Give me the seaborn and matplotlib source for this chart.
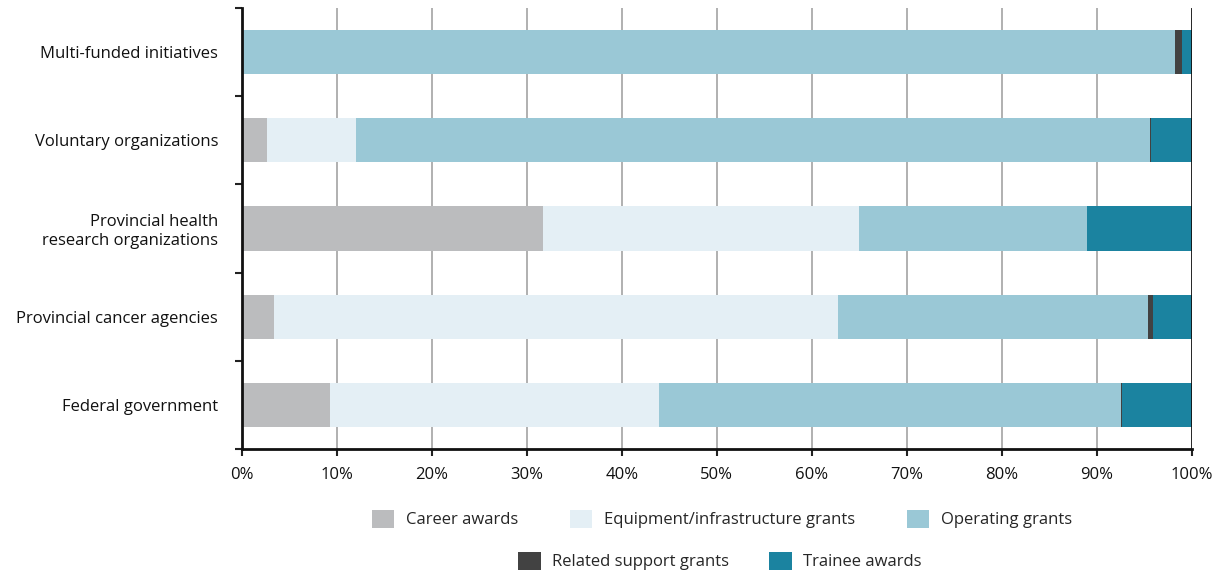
import numpy as np
import pandas as pd
import matplotlib
matplotlib.use("Agg")
import matplotlib.pyplot as plt
from matplotlib.patches import Patch
import seaborn as sns

categories = ["Multi-funded initiatives", "Voluntary organizations",
              "Provincial health\nresearch organizations",
              "Provincial cancer agencies", "Federal government"]
series = ["Career awards", "Equipment/infrastructure grants", "Operating grants",
          "Related support grants", "Trainee awards"]
career = [0.0, 2.7, 31.7, 3.4, 9.3]
equipment = [0.0, 9.3, 33.3, 59.3, 34.6]
operating = [98.2, 83.6, 23.9, 32.7, 48.6]
related = [0.8, 0.1, 0.0, 0.5, 0.1]
trainee = [1.0, 4.3, 11.1, 4.1, 7.4]
xticks = [0, 10, 20, 30, 40, 50, 60, 70, 80, 90, 100]

colors = ["#BBBCBE", "#E4EFF5", "#9AC8D6", "#424242", "#1B83A0"]

sns.set_theme(style="white")
plt.rcParams['font.family'] = ['Open Sans', 'DejaVu Sans']

fig = plt.figure(figsize=(12.31, 5.78), dpi=100)
ax = fig.add_axes([241.7/1231, 1-449/578, (1192-241.7)/1231, (449-8)/578])

vals = np.array([career, equipment, operating, related, trainee])
cum = np.cumsum(vals, axis=0)

for x in xticks[1:-1]:
    ax.axvline(x, color="#AAAAAA", lw=1.3, zorder=0)

for i in range(len(series) - 1, -1, -1):
    df = pd.DataFrame({"cat": categories, "val": cum[i]})
    sns.barplot(data=df, x="val", y="cat", order=categories, orient="h",
                color=colors[i], width=0.5, saturation=1, ax=ax, zorder=2,
                linewidth=0, edgecolor="none")

ax.axvline(100, color="#111111", lw=2, zorder=3)

ax.set_xlim(0, 100)
ax.set_ylim(4.5, -0.5)
ax.set_xticks(xticks)
ax.set_xticklabels([f"{v}%" for v in xticks], fontsize=12, color="#111111")
ax.set_xlabel("")
ax.set_ylabel("")
ax.tick_params(axis="y", which="major", length=0, pad=17, labelsize=12, labelcolor="#111111")
for lab in ax.get_yticklabels():
    lab.set_multialignment("right")
ax.set_yticks(np.arange(-0.5, 5, 1), minor=True)
ax.tick_params(axis="y", which="minor", length=5, width=1.5, color="#222222", direction="out", left=True)
ax.tick_params(axis="x", which="major", length=5, width=1.5, color="#222222", direction="out", bottom=True, pad=8)

for s in ["top", "right"]:
    ax.spines[s].set_visible(False)
for s in ["left", "bottom"]:
    ax.spines[s].set_color("#111111")
    ax.spines[s].set_linewidth(2)
ax.spines["left"].set_zorder(4)

h1 = [Patch(facecolor=colors[i], edgecolor="none") for i in range(3)]
h2 = [Patch(facecolor=colors[i], edgecolor="none") for i in range(3, 5)]
leg1 = fig.legend(h1, series[:3], loc="center", bbox_to_anchor=(722/1231, 1-519/578),
                  ncol=3, frameon=False, fontsize=12, handlelength=1.35, handleheight=1.35,
                  columnspacing=3.1, handletextpad=0.7)
leg2 = fig.legend(h2, series[3:], loc="center", bbox_to_anchor=(720/1231, 1-561/578),
                  ncol=2, frameon=False, fontsize=12, handlelength=1.35, handleheight=1.35,
                  columnspacing=2.4, handletextpad=0.7)

fig.savefig("out.png", dpi=100)
